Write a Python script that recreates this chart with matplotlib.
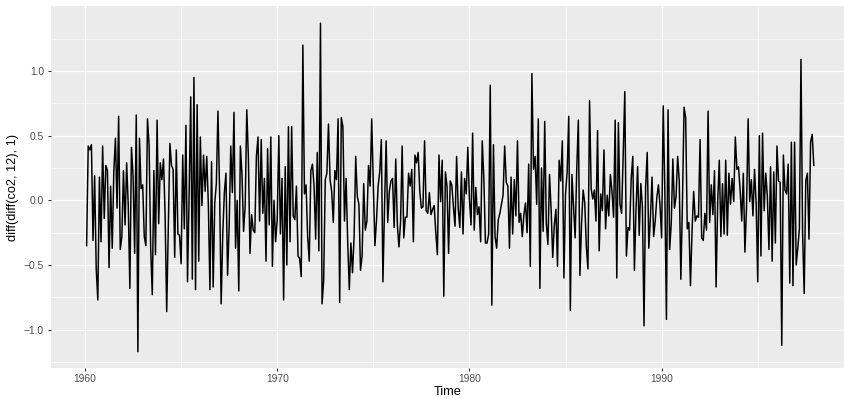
import numpy as np
import matplotlib
matplotlib.use("Agg")
import matplotlib.pyplot as plt

# Monthly Mauna Loa CO2 (R dataset `co2`), one list per year
co2_1959 = [315.42, 316.31, 316.50, 317.56, 318.13, 318.00, 316.39, 314.65, 313.68, 313.18, 314.66, 315.43]
co2_1960 = [316.27, 316.81, 317.42, 318.87, 319.87, 319.43, 318.01, 315.74, 314.00, 313.68, 314.84, 316.03]
co2_1961 = [316.73, 317.54, 318.38, 319.31, 320.42, 319.61, 318.42, 316.63, 314.83, 315.16, 315.94, 316.85]
co2_1962 = [317.78, 318.40, 319.53, 320.42, 320.85, 320.45, 319.45, 317.25, 316.11, 315.27, 316.53, 317.53]
co2_1963 = [318.58, 318.92, 319.70, 321.22, 322.08, 321.31, 319.58, 317.61, 316.05, 315.83, 316.91, 318.20]
co2_1964 = [319.41, 320.07, 320.74, 321.40, 322.06, 321.73, 320.27, 318.54, 316.54, 316.71, 317.53, 318.55]
co2_1965 = [319.27, 320.28, 320.73, 321.97, 322.00, 321.71, 321.05, 318.71, 317.66, 317.14, 318.70, 319.25]
co2_1966 = [320.46, 321.43, 322.23, 323.54, 323.91, 323.59, 322.24, 320.20, 318.48, 317.94, 319.63, 320.87]
co2_1967 = [322.17, 322.34, 322.88, 324.25, 324.83, 323.93, 322.38, 320.76, 319.10, 319.24, 320.56, 321.80]
co2_1968 = [322.40, 322.99, 323.73, 324.86, 325.40, 325.20, 323.98, 321.95, 320.18, 320.09, 321.16, 322.74]
co2_1969 = [323.83, 324.26, 325.47, 326.50, 327.21, 326.54, 325.72, 323.50, 322.22, 321.62, 322.69, 323.95]
co2_1970 = [324.89, 325.82, 326.77, 327.97, 327.91, 327.50, 326.18, 324.53, 322.93, 322.90, 323.85, 324.96]
co2_1971 = [326.01, 326.51, 327.01, 327.62, 328.76, 328.40, 327.20, 325.27, 323.20, 323.40, 324.63, 325.85]
co2_1972 = [326.60, 327.47, 327.58, 329.56, 329.90, 328.92, 327.88, 326.16, 324.68, 325.04, 326.34, 327.39]
co2_1973 = [328.37, 329.40, 330.14, 331.33, 332.31, 331.90, 330.70, 329.15, 327.35, 327.02, 327.99, 328.48]
co2_1974 = [329.18, 330.55, 331.32, 332.48, 332.92, 332.08, 331.01, 329.23, 327.27, 327.21, 328.29, 329.41]
co2_1975 = [330.23, 331.25, 331.87, 333.14, 333.80, 333.43, 331.73, 329.90, 328.40, 328.17, 329.32, 330.59]
co2_1976 = [331.58, 332.39, 333.33, 334.41, 334.71, 334.17, 332.89, 330.77, 329.14, 328.78, 330.14, 331.52]
co2_1977 = [332.75, 333.24, 334.53, 335.90, 336.57, 336.10, 334.76, 332.59, 331.42, 330.98, 332.24, 333.68]
co2_1978 = [334.80, 335.22, 336.47, 337.59, 337.84, 337.72, 336.37, 334.51, 332.60, 332.38, 333.75, 334.78]
co2_1979 = [336.05, 336.59, 337.79, 338.71, 339.30, 339.12, 337.56, 335.92, 333.75, 333.70, 335.12, 336.56]
co2_1980 = [337.84, 338.19, 339.91, 340.60, 341.29, 341.00, 339.39, 337.43, 335.72, 335.84, 336.93, 338.04]
co2_1981 = [339.06, 340.30, 341.21, 342.33, 342.74, 342.08, 340.32, 338.26, 336.52, 336.68, 338.19, 339.44]
co2_1982 = [340.57, 341.44, 342.53, 343.39, 343.96, 343.18, 341.88, 339.65, 337.81, 337.69, 339.09, 340.32]
co2_1983 = [341.20, 342.35, 342.93, 344.77, 345.58, 345.14, 343.81, 342.21, 339.69, 339.82, 340.98, 342.82]
co2_1984 = [343.52, 344.33, 345.11, 346.88, 347.25, 346.62, 345.22, 343.11, 340.90, 341.18, 342.80, 344.04]
co2_1985 = [344.79, 345.82, 347.25, 348.17, 348.74, 348.07, 346.38, 344.51, 342.92, 342.62, 344.06, 345.38]
co2_1986 = [346.11, 346.78, 347.68, 349.37, 350.03, 349.37, 347.76, 345.73, 344.68, 343.99, 345.48, 346.72]
co2_1987 = [347.84, 348.29, 349.23, 350.80, 351.66, 351.07, 349.33, 347.92, 346.27, 346.18, 347.64, 348.78]
co2_1988 = [350.25, 351.54, 352.05, 353.41, 354.04, 353.62, 352.22, 350.27, 348.55, 348.72, 349.91, 351.18]
co2_1989 = [352.60, 352.92, 353.53, 355.26, 355.52, 354.97, 353.75, 351.52, 349.64, 349.83, 351.14, 352.37]
co2_1990 = [353.50, 354.55, 355.23, 356.04, 357.00, 356.07, 354.67, 352.76, 350.82, 351.04, 352.69, 354.07]
co2_1991 = [354.59, 355.63, 357.03, 358.48, 359.22, 358.12, 356.06, 353.92, 352.05, 352.11, 353.64, 354.89]
co2_1992 = [355.88, 356.63, 357.72, 359.07, 359.58, 359.17, 356.94, 354.92, 352.94, 353.23, 354.09, 355.33]
co2_1993 = [356.63, 357.10, 358.32, 359.41, 360.23, 359.55, 357.53, 355.48, 353.67, 353.95, 355.30, 356.78]
co2_1994 = [358.34, 358.89, 359.95, 361.25, 361.67, 360.94, 359.55, 357.49, 355.84, 356.00, 357.59, 359.05]
co2_1995 = [359.98, 361.03, 361.66, 363.48, 363.82, 363.30, 361.94, 359.50, 358.11, 357.80, 359.61, 360.74]
co2_1996 = [362.09, 363.29, 364.06, 364.76, 365.45, 365.01, 363.70, 361.54, 359.51, 359.65, 360.80, 362.38]
co2_1997 = [363.23, 364.06, 364.61, 366.40, 366.84, 365.68, 364.52, 362.57, 360.24, 360.83, 362.49, 364.34]

years = list(range(1959, 1998))
co2 = np.concatenate([globals()[f"co2_{y}"] for y in years])
start_year = 1959

# diff(diff(co2, 12), 1)
seasonal_diff = co2[12:] - co2[:-12]
dd = np.diff(seasonal_diff)
time = start_year + (np.arange(len(dd)) + 13) / 12.0

x_ticks = [1960, 1970, 1980, 1990]
y_ticks = [-1.0, -0.5, 0.0, 0.5, 1.0]
x_label = "Time"
y_label = "diff(diff(co2, 12), 1)"

W, H = 845, 399
dpi = 100
fig = plt.figure(figsize=(W / dpi, H / dpi), dpi=dpi)
plt.rcParams['font.family'] = ['Liberation Sans', 'DejaVu Sans']

left, right, top, bottom = 50.7, 845, 6, 368
ax = fig.add_axes([left / W, (H - bottom) / H, (right - left) / W, (bottom - top) / H])
ax.set_facecolor('#EBEBEB')
for s in ax.spines.values():
    s.set_visible(False)

px = 72.0 / dpi
ax.set_xlim(1958.215, 1999.54)
ax.set_ylim(-1.296, 1.5025)

ax.set_xticks(x_ticks)
ax.set_yticks(y_ticks)
ax.set_xticks([1965, 1975, 1985, 1995], minor=True)
ax.set_yticks([-1.25, -0.75, -0.25, 0.25, 0.75, 1.25], minor=True)
ax.set_yticklabels([f"{v:.1f}".replace("-", "\u2212") for v in y_ticks])

ax.grid(True, which='major', color='white', linewidth=1.3 * px)
ax.grid(True, which='minor', color='white', linewidth=0.65 * px)
ax.set_axisbelow(True)

ax.tick_params(axis='both', which='major', length=3.2 * px, width=1.1 * px, color='#333333',
               labelsize=10.3 * px, labelcolor='#4D4D4D')
ax.tick_params(axis='x', which='major', pad=2.5 * px)
ax.tick_params(axis='y', which='major', pad=3.5 * px)
ax.tick_params(which='minor', length=0)

ax.plot(time, dd, color='black', linewidth=1.5 * px, solid_joinstyle='round')

ax.set_xlabel(x_label, fontsize=12.8 * px, color='black', labelpad=2.0)
ax.set_ylabel(y_label, fontsize=12.8 * px, color='black', labelpad=3.5)

fig.savefig("out.png", dpi=dpi)
